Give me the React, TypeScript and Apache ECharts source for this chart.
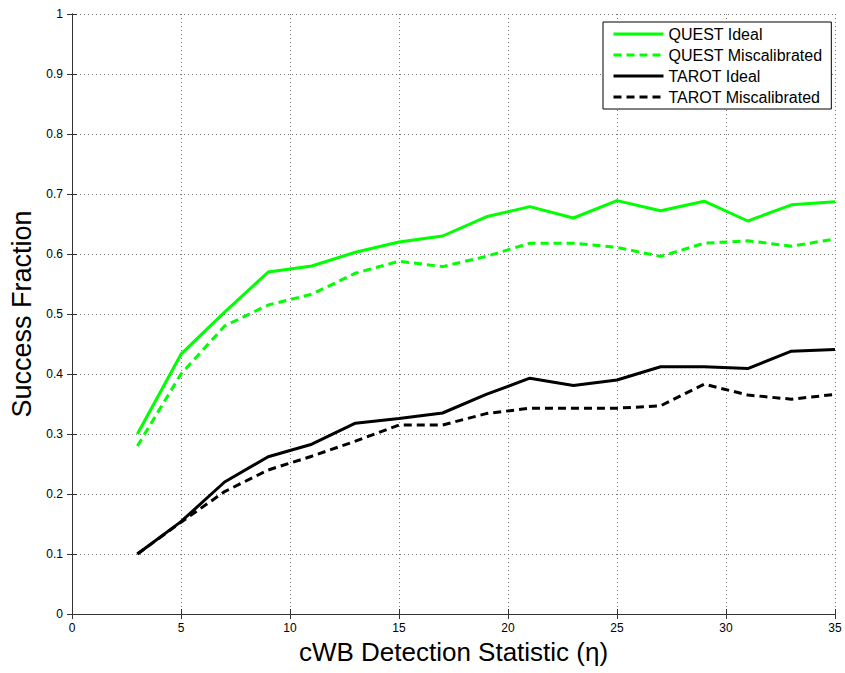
import React, { useEffect, useRef } from "react";
import * as echarts from "echarts";

const xValues = [3, 5, 7, 9, 11, 13, 15, 17, 19, 21, 23, 25, 27, 29, 31, 33, 35];
const questIdeal = [0.30, 0.433, 0.503, 0.57, 0.58, 0.603, 0.62, 0.63, 0.662, 0.679, 0.66, 0.689, 0.672, 0.688, 0.655, 0.682, 0.687];
const questMiscal = [0.28, 0.40, 0.48, 0.515, 0.533, 0.568, 0.588, 0.579, 0.596, 0.618, 0.618, 0.611, 0.596, 0.618, 0.622, 0.613, 0.625];
const tarotIdeal = [0.10, 0.154, 0.22, 0.262, 0.283, 0.318, 0.326, 0.335, 0.366, 0.393, 0.381, 0.39, 0.412, 0.412, 0.409, 0.438, 0.441];
const tarotMiscal = [0.10, 0.153, 0.204, 0.24, 0.263, 0.288, 0.315, 0.315, 0.334, 0.343, 0.343, 0.343, 0.347, 0.383, 0.365, 0.358, 0.366];
const seriesNames = ["QUEST Ideal", "QUEST Miscalibrated", "TAROT Ideal", "TAROT Miscalibrated"];

const FONT = "'Liberation Sans', Arial, Helvetica, sans-serif";

function pairs(ys: number[]) {
  return xValues.map((x, i) => [x, ys[i]]);
}

export default function App() {
  const ref = useRef<HTMLDivElement>(null);
  useEffect(() => {
    if (!ref.current) return;
    const chart = echarts.init(ref.current, undefined, { renderer: "svg" });
    const axisLine = { show: true, lineStyle: { color: "#333", width: 1 } };
    const tick = { show: true, inside: true, length: 5, lineStyle: { color: "#333" } };
    const split = { show: true, lineStyle: { color: "#777", type: [1, 3] as any, width: 1 } };
    const lbl = { fontFamily: FONT, fontSize: 12, color: "#000" };
    const dash = [8, 5];
    chart.setOption({
      animation: false,
      backgroundColor: "#fff",
      grid: { left: 72, top: 14, width: 763, height: 600, containLabel: false },
      legend: {
        orient: "vertical",
        left: 603,
        top: 22,
        padding: [4, 9, 4, 9],
        itemGap: 5,
        itemWidth: 50,
        itemHeight: 16,
        itemStyle: { opacity: 0, borderWidth: 0 },
        lineStyle: { width: 3 },
        borderColor: "#000",
        borderWidth: 1,
        backgroundColor: "#fff",
        textStyle: { fontFamily: FONT, fontSize: 16, color: "#000" },
        data: seriesNames,
      },
      xAxis: [
        {
          type: "value",
          min: 0,
          max: 35,
          interval: 5,
          axisLine,
          axisTick: tick,
          splitLine: split,
          axisLabel: { ...lbl, margin: 8, formatter: (v: number) => String(v) },
          name: "cWB Detection Statistic (\u03b7)",
          nameLocation: "middle",
          nameGap: 24,
          nameTextStyle: { fontFamily: FONT, fontSize: 26, color: "#000", verticalAlign: "top" },
        },
        {
          type: "value",
          position: "top",
          min: 0,
          max: 35,
          interval: 5,
          axisLine,
          axisTick: tick,
          splitLine: { show: false },
          axisLabel: { show: false },
        },
      ],
      yAxis: [
        {
          type: "value",
          min: 0,
          max: 1,
          interval: 0.1,
          axisLine,
          axisTick: tick,
          splitLine: split,
          axisLabel: { ...lbl, margin: 9, formatter: (v: number) => String(Math.round(v * 10) / 10) },
          name: "Success Fraction",
          nameLocation: "middle",
          nameGap: 37,
          nameTextStyle: { fontFamily: FONT, fontSize: 27, color: "#000" },
        },
        {
          type: "value",
          position: "right",
          min: 0,
          max: 1,
          interval: 0.1,
          axisLine,
          axisTick: tick,
          splitLine: { show: false },
          axisLabel: { show: false },
        },
      ],
      series: [
        { name: seriesNames[0], type: "line", data: pairs(questIdeal), symbol: "none", color: "#00ff00", lineStyle: { color: "#00ff00", width: 3 } },
        { name: seriesNames[1], type: "line", data: pairs(questMiscal), symbol: "none", color: "#00ff00", lineStyle: { color: "#00ff00", width: 3, type: dash } },
        { name: seriesNames[2], type: "line", data: pairs(tarotIdeal), symbol: "none", color: "#000", lineStyle: { color: "#000", width: 3 } },
        { name: seriesNames[3], type: "line", data: pairs(tarotMiscal), symbol: "none", color: "#000", lineStyle: { color: "#000", width: 3, type: dash } },
      ],
    });
    return () => chart.dispose();
  }, []);
  return <div ref={ref} style={{ width: 845, height: 673, position: "absolute", left: 0, top: 0 }} />;
}
